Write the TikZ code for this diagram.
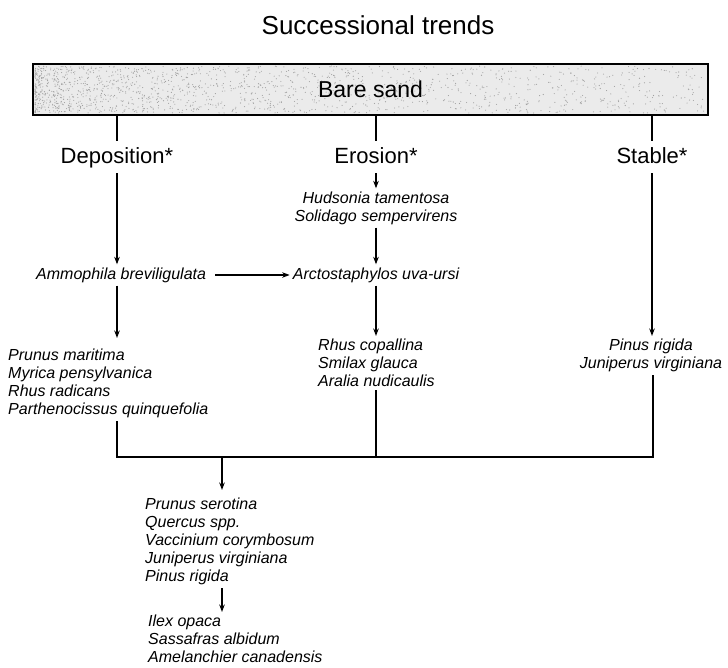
\documentclass[tikz,border=0pt]{standalone}
\usepackage{fontspec}
\setmainfont{Liberation Sans}
\usetikzlibrary{arrows.meta}
\begin{document}
\begin{tikzpicture}[x=1pt,y=-1pt,
  ttl/.style={font=\fontsize{26}{30}\selectfont, inner sep=0pt},
  trend/.style={font=\fontsize{22}{26}\selectfont, inner sep=2pt, anchor=base},
  sp/.style={font=\fontsize{16}{18}\selectfont\itshape, inner sep=3pt},
  spl/.style={sp, align=left, anchor=north west},
  spc/.style={sp, align=center},
  ln/.style={line width=1.6pt},
  arr/.style={line width=1.6pt, -{Stealth[length=7.5pt,width=5.5pt]}}]
\useasboundingbox (0,0) rectangle (728,667);
% title
\node[ttl] (title) at (378,25) {Successional trends};
% sand box
\fill[gray!16] (33,64) rectangle (708,115);
\pgfmathsetseed{7}
\foreach \i in {1,...,1600}{
  \pgfmathsetmacro{\xx}{35+671*pow(rnd,1.8)}
  \pgfmathsetmacro{\yy}{66+47*rnd}
  \fill[gray!75] (\xx,\yy) circle (0.55pt);
}
\node[draw, line width=1.3pt, minimum width=675pt, minimum height=51pt,
      font=\fontsize{23}{27}\selectfont, inner sep=0pt] (sand) at (370.5,89.5) {Bare sand};
% trend labels
\node[trend] (dep) at (117,163) {Deposition*};
\node[trend] (ero) at (376,163) {Erosion*};
\node[trend] (sta) at (652,163) {Stable*};
\draw[ln] (sand.south -| dep) -- ([yshift=22pt]dep.base);
\draw[ln] (sand.south -| ero) -- ([yshift=22pt]ero.base);
\draw[ln] (sand.south -| sta) -- ([yshift=22pt]sta.base);
% species
\node[sp, anchor=west] (amm) at (33,275) {Ammophila breviligulata};
\node[spc] (hud) at (376,208) {Hudsonia tamentosa\\Solidago sempervirens};
\node[sp] (arc) at (376,275) {Arctostaphylos uva-ursi};
\node[spl] (rhus) at (315,336) {Rhus copallina\\Smilax glauca\\Aralia nudicaulis};
\node[spc, anchor=north] (pin) at (651,336) {Pinus rigida\\Juniperus virginiana};
\node[spl] (pm) at (5,346) {Prunus maritima\\Myrica pensylvanica\\Rhus radicans\\Parthenocissus quinquefolia};
\node[spl] (ps) at (142,495) {Prunus serotina\\Quercus spp.\\Vaccinium corymbosum\\Juniperus virginiana\\Pinus rigida};
\node[spl] (ilex) at (145,612) {Ilex opaca\\Sassafras albidum\\Amelanchier canadensis};
% junction coordinates
\coordinate (jl) at (117,457);
\coordinate (jr) at (653,457);
\coordinate (jm) at (222,457);
% arrows
\draw[arr] ([yshift=-10pt]dep.base) -- (amm.north -| dep);
\draw[arr] ([yshift=-10pt]ero.base) -- (hud.north -| ero);
\draw[arr] (hud.south -| ero) -- (arc.north -| ero);
\draw[arr] ([xshift=6pt]amm.east) -- (arc.west);
\draw[arr] (arc.south -| ero) -- (rhus.north -| ero);
\draw[arr] ([yshift=-10pt]sta.base) -- (pin.north -| sta);
\draw[arr] (amm.south -| dep) -- ([yshift=8pt]pm.north -| dep);
\draw[ln] (pm.south -| jl) -- (jl) -- (jr) -- (pin.south -| jr);
\draw[ln] (rhus.south -| ero) -- (ero |- jl);
\draw[arr] (jm) -- ([yshift=5pt]ps.north -| jm);
\draw[arr] (ps.south -| jm) -- (ilex.north -| jm);
\end{tikzpicture}
\end{document}
